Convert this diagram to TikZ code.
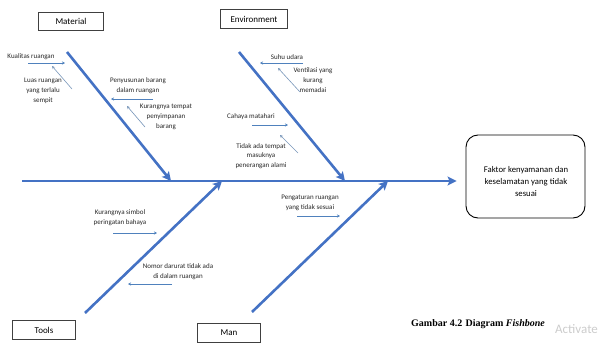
\documentclass[tikz,border=0pt]{standalone}
\usepackage{fontspec}
\setmainfont{Carlito}
\newfontfamily\capfont{Liberation Serif}
\usetikzlibrary{arrows.meta}
\definecolor{bonec}{RGB}{68,114,196}
\definecolor{thinc}{RGB}{79,129,189}
\definecolor{diagc}{RGB}{120,150,185}
\tikzset{
  bone/.style={draw=bonec,line width=2.6pt,-{Stealth[length=9pt,width=9pt,inset=2pt]}},
  thinarrow/.style={draw=thinc,line width=0.6pt,-{Stealth[length=3pt,width=3pt]}},
  diagarrow/.style={draw=diagc,line width=0.6pt,-{Stealth[length=3pt,width=3pt]}},
  catbox/.style={draw=black!75,line width=0.8pt,minimum width=63pt,minimum height=19pt,inner sep=0pt,font=\fontsize{9}{11}\selectfont},
  lbl/.style={align=center,inner sep=0pt,font=\fontsize{7}{9.8}\selectfont,text=black!85},
}
\begin{document}
\begin{tikzpicture}[x=1pt,y=-1pt]
\useasboundingbox (0,0) rectangle (598,351);
% category boxes
\node[catbox,minimum width=65pt,minimum height=18pt] (mat) at (71,21) {Material};
\node[catbox,minimum width=67pt] (env) at (254,19) {Environment};
\node[catbox] (tools) at (44,330) {Tools};
\node[catbox] (man) at (229,333) {Man};
% result box
\node[draw=black,line width=0.9pt,rounded corners=12pt,minimum width=119pt,minimum height=83pt] (res) at (525.5,176.5) {};
\node[align=center,inner sep=0pt,font=\fontsize{8.7}{12}\selectfont] (restext) at (526,181.5) {Faktor kenyamanan dan\\keselamatan yang tidak\\sesuai};
% spine
\coordinate (spS) at (22,181);
\draw[bone,shorten >=9pt] (spS) -- (spS -| res.west);
% bone coordinates
\coordinate (matS) at (67,52);   \coordinate (matT) at (171,181);
\coordinate (envS) at (239,52);  \coordinate (envT) at (345,181);
\coordinate (toolS) at (85,313); \coordinate (toolT) at (222,181);
\coordinate (manS) at (252,312); \coordinate (manT) at (388,181);
\draw[bone] (matS) -- (matT);
\draw[bone] (envS) -- (envT);
\draw[bone] (toolS) -- (toolT);
\draw[bone] (manS) -- (manT);
% Material labels
\node[lbl] (kual) at (31,57) {Kualitas ruangan};
\coordinate (kualA) at (28,63); \coordinate (kualB) at (65,63);
\draw[thinarrow] (kualA) -- (kualB);
\node[lbl] (luas) at (43,91) {Luas ruangan\\yang terlalu\\sempit};
\coordinate (luasA) at (72,89); \coordinate (luasB) at (52,66);
\draw[diagarrow] (luasA) -- (luasB);
\node[lbl] (peny) at (138,86) {Penyusunan barang\\dalam ruangan};
\coordinate (penyA) at (153,99); \coordinate (penyB) at (111,99);
\draw[thinarrow] (penyA) -- (penyB);
\node[lbl] (kur) at (166,117) {Kurangnya tempat\\penyimpanan\\barang};
\coordinate (kurA) at (145,127); \coordinate (kurB) at (127,106);
\draw[diagarrow] (kurA) -- (kurB);
% Environment labels
\node[lbl] (suhu) at (287,57) {Suhu udara};
\coordinate (suhuA) at (303,63); \coordinate (suhuB) at (260,63);
\draw[thinarrow] (suhuA) -- (suhuB);
\node[lbl] (vent) at (313,80) {Ventilasi yang\\kurang\\memadai};
\coordinate (ventA) at (300,92); \coordinate (ventB) at (278,68);
\draw[diagarrow] (ventA) -- (ventB);
\node[lbl] (cah) at (251,117) {Cahaya matahari};
\coordinate (cahA) at (252,125); \coordinate (cahB) at (288,125);
\draw[thinarrow] (cahA) -- (cahB);
\node[lbl] (tidak) at (261,156) {Tidak ada tempat\\masuknya\\penerangan alami};
\coordinate (tidakA) at (298,153); \coordinate (tidakB) at (280,135);
\draw[diagarrow] (tidakA) -- (tidakB);
% Tools labels
\node[lbl] (simb) at (120,218) {Kurangnya simbol\\peringatan bahaya};
\coordinate (simbA) at (113,233); \coordinate (simbB) at (157,233);
\draw[thinarrow] (simbA) -- (simbB);
\node[lbl] (nomor) at (178,272) {Nomor darurat tidak ada\\di dalam ruangan};
\coordinate (nomorA) at (172,284); \coordinate (nomorB) at (128,284);
\draw[thinarrow] (nomorA) -- (nomorB);
% Man labels
\node[lbl] (peng) at (310,203) {Pengaturan ruangan\\yang tidak sesuai};
\coordinate (pengA) at (297,216); \coordinate (pengB) at (340,216);
\draw[thinarrow] (pengA) -- (pengB);
% caption
\node[anchor=base west,inner sep=0pt,font=\capfont\fontsize{10}{12}\selectfont] (cap) at (411,326)
  {\textbf{Gambar 4.2\,\,Diagram} \textbf{\textit{Fishbone}}};
\begin{scope}
\clip (0,0) rectangle (598,351);
\node[anchor=base west,inner sep=0pt,text=black!20,font=\fontsize{13}{15}\selectfont] (wm) at (555,333) {Activate};
\end{scope}
\end{tikzpicture}
\end{document}
